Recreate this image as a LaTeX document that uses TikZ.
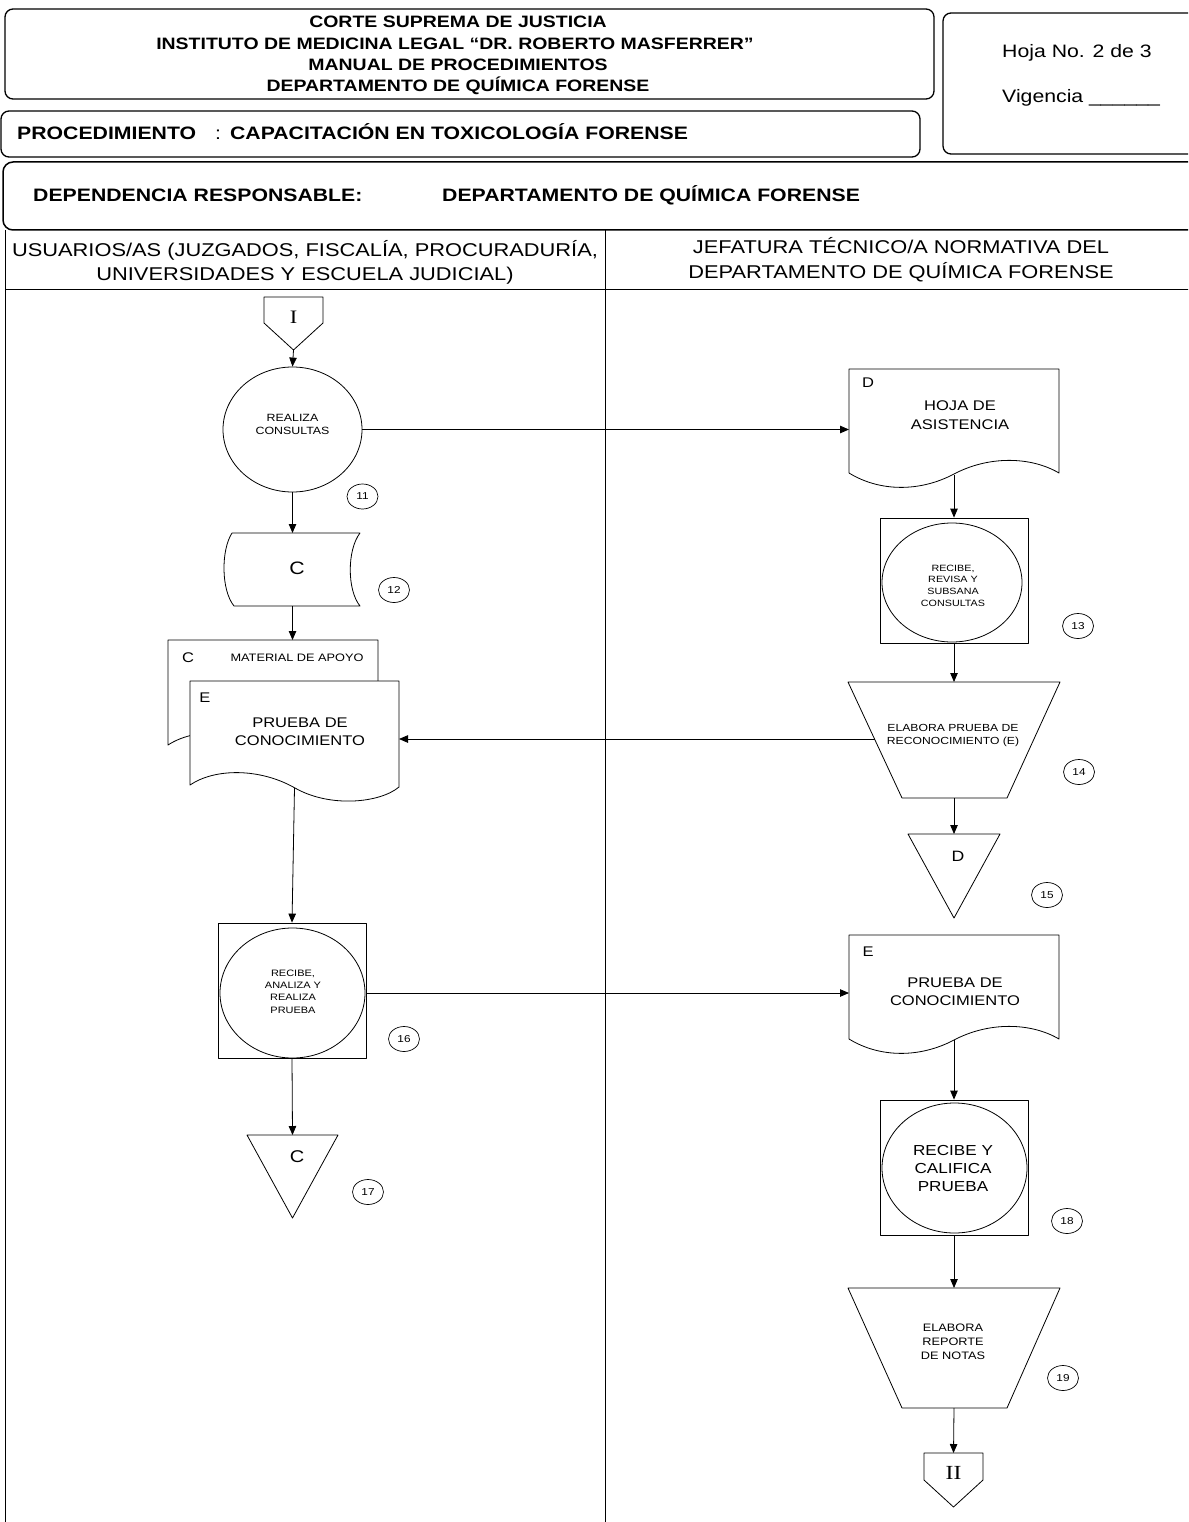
\documentclass[tikz,border=0pt]{standalone}
\usepackage{fontspec}
\setmainfont{Liberation Sans}[FakeStretch=1.18]
\newfontfamily\romanf{Liberation Serif}[FakeStretch=1.18]
\usetikzlibrary{shapes.geometric,arrows.meta,calc}
\newcommand\fs[2]{\fontsize{#1}{#2}\selectfont}
\begin{document}
\begin{tikzpicture}[x=1pt,y=-1pt,line join=round,
  shp/.style={draw,line width=0.8pt,fill=white},
  arr/.style={draw,line width=0.8pt,-{Triangle[length=9pt,width=7.5pt]}},
  ln/.style={draw,line width=0.8pt},
  hdrbox/.style={draw,line width=1.3pt},
  txt/.style={inner sep=0,align=center},
  badge/.style={ellipse,draw,line width=0.7pt,minimum width=31pt,minimum height=25pt,inner sep=0,font=\fs{10}{10}},
  circ/.style={ellipse,draw,line width=0.8pt,inner sep=0},
  bx/.style={draw,line width=0.8pt,inner sep=0},
  ghost/.style={inner sep=0,outer sep=0}]
\useasboundingbox (0,0) rectangle (1188,1522);
\clip (0,0) rectangle (1188,1522);

% ---------- header ----------
\draw[hdrbox,rounded corners=8pt] (5,9) rectangle (934,99);
\node[txt,font=\bfseries\fs{16.5}{20},anchor=base] (t1) at (458,27.5) {CORTE SUPREMA DE JUSTICIA};
\node[txt,font=\bfseries\fs{16.5}{20},anchor=base] (t2) at (455,49.3) {INSTITUTO DE MEDICINA LEGAL “DR. ROBERTO MASFERRER”};
\node[txt,font=\bfseries\fs{16.5}{20},anchor=base] (t3) at (458,70.5) {MANUAL DE PROCEDIMIENTOS};
\node[txt,font=\bfseries\fs{16.5}{20},anchor=base] (t4) at (458,92) {DEPARTAMENTO DE QUÍMICA FORENSE};

\draw[hdrbox,rounded corners=8pt] (1,111) rectangle (920,157);
\node[txt,font=\fs{18}{20},anchor=base west] (proc) at (17,140) {\textbf{PROCEDIMIENTO}\hspace{19pt}:\hspace{9pt}\textbf{CAPACITACIÓN EN TOXICOLOGÍA FORENSE}};

\draw[hdrbox,rounded corners=8pt] (943,13) rectangle (1210,154);
\node[txt,font=\fs{18}{20},anchor=base west] (hoja) at (1002,58) {Hoja No. 2 de 3};
\node[txt,font=\fs{18}{20},anchor=base west] (vig) at (1002,103) {Vigencia \_\_\_\_\_\_};

\draw[hdrbox,line width=1.5pt,rounded corners=10pt] (3,162) rectangle (1210,230);
\node[txt,font=\bfseries\fs{18}{20},anchor=base west] (dep1) at (33,202) {DEPENDENCIA RESPONSABLE:};
\node[txt,font=\bfseries\fs{18}{20},anchor=base west] (dep2) at (442,202) {DEPARTAMENTO DE QUÍMICA FORENSE};

% ---------- lanes ----------
\draw[ln] (5,230) -- (5,1530);
\draw[ln] (605,230) -- (605,1530);
\draw[ln] (5,289) -- (1210,289);
\node[txt,font=\fs{18.5}{22},anchor=base] (lh1a) at (305,257) {USUARIOS/AS (JUZGADOS, FISCALÍA, PROCURADURÍA,};
\node[txt,font=\fs{18.5}{22},anchor=base] (lh1b) at (305,280) {UNIVERSIDADES Y ESCUELA JUDICIAL)};
\node[txt,font=\fs{18.5}{22},anchor=base] (lh2a) at (901,254) {JEFATURA TÉCNICO/A NORMATIVA DEL};
\node[txt,font=\fs{18.5}{22},anchor=base] (lh2b) at (901,278) {DEPARTAMENTO DE QUÍMICA FORENSE};

% ---------- left lane ----------
\node[ghost,minimum width=59pt,minimum height=53pt] (conI) at (293.5,323.5) {};
\draw[shp] (264,297) -- (323,297) -- (323,323) -- (293.5,350) -- (264,323) -- cycle;
\node[txt,font=\romanf\fs{19}{19}] (conIt) at (293.5,317) {I};

\node[circ,minimum width=139pt,minimum height=125pt] (realiza) at (292.5,429.5) {};
\node[txt,font=\fs{10.5}{13}] (realizat) at (292.5,424.5) {REALIZA\\CONSULTAS};
\node[badge] (b11) at (362.5,496.5) {11};

\node[ghost,minimum width=135pt,minimum height=73pt] (storC) at (292.5,569.5) {};
\draw[shp] (232,533) -- (360,533) .. controls (347,550) and (347,590) .. (360,606) -- (234,606) .. controls (221,590) and (221,550) .. (232,533) -- cycle;
\node[txt,font=\fs{18}{18}] (storCt) at (297,568) {C};
\node[badge] (b12) at (394,590) {12};

\node[ghost,minimum width=210pt,minimum height=105pt] (docC) at (273,692.5) {};
\draw[shp] (168,640) -- (378,640) -- (378,747) .. controls (359,763) and (309,768) .. (274,748) .. controls (239,728) and (194,728) .. (168,745) -- cycle;
\node[txt,font=\fs{14}{14}] (docCl) at (188,658) {C};
\node[txt,font=\fs{10.8}{13}] (docCt) at (297,658) {MATERIAL DE APOYO};

\node[ghost,minimum width=209pt,minimum height=107pt] (docE1) at (294.5,734.5) {};
\draw[shp] (190,681) -- (399,681) -- (399,787) .. controls (380,803) and (330,808) .. (295,788) .. controls (260,768) and (215,768) .. (190,785) -- cycle;
\node[txt,font=\fs{14}{14}] (docE1l) at (205,698) {E};
\node[txt,font=\fs{14}{18}] (docE1t) at (300,732) {PRUEBA DE\\CONOCIMIENTO};

\node[bx,minimum width=148pt,minimum height=135pt] (box16) at (292,990.5) {};
\node[circ,minimum width=145pt,minimum height=130pt] (c16) at (292.5,993) {};
\node[txt,font=\fs{9.3}{12.3}] (c16t) at (293,991.5) {RECIBE,\\ANALIZA Y\\REALIZA\\PRUEBA};
\node[badge] (b16) at (404,1039) {16};

\node[ghost,minimum width=91pt,minimum height=83pt] (triC) at (292.5,1176.5) {};
\draw[shp] (247,1135) -- (338,1135) -- (292.5,1218) -- cycle;
\node[txt,font=\fs{17}{17}] (triCt) at (297,1157) {C};
\node[badge] (b17) at (368,1192) {17};

% ---------- right lane ----------
\node[ghost,minimum width=210pt,minimum height=106pt] (docD) at (954,422) {};
\draw[shp] (849,369) -- (1059,369) -- (1059,473) .. controls (1030,456) and (988,456) .. (954,474) .. controls (920,492) and (880,492) .. (849,473) -- cycle;
\node[txt,font=\fs{14}{14}] (docDl) at (868,383) {D};
\node[txt,font=\fs{14}{19}] (docDt) at (960,415) {HOJA DE\\ASISTENCIA};

\node[bx,minimum width=148pt,minimum height=125pt] (box13) at (954,580.5) {};
\node[circ,minimum width=140pt,minimum height=119pt] (c13) at (952,582.5) {};
\node[txt,font=\fs{9.1}{11.7}] (c13t) at (953,585.5) {RECIBE,\\REVISA Y\\SUBSANA\\CONSULTAS};
\node[badge] (b13) at (1078,626) {13};

\node[ghost,minimum width=212pt,minimum height=116pt] (trap14) at (954,740) {};
\draw[shp] (848,682) -- (1060,682) -- (1007,798) -- (902,798) -- cycle;
\coordinate (trap14L) at (874.5,739);
\node[txt,font=\fs{10.3}{12.7}] (trap14t) at (953,735.5) {ELABORA PRUEBA DE\\RECONOCIMIENTO (E)};
\node[badge] (b14) at (1079,772) {14};

\node[ghost,minimum width=92pt,minimum height=84pt] (triD) at (954,876) {};
\draw[shp] (908,834) -- (1000,834) -- (954,918) -- cycle;
\node[txt,font=\fs{15}{15}] (triDt) at (958,856) {D};
\node[badge] (b15) at (1047,895) {15};

\node[ghost,minimum width=210pt,minimum height=105pt] (docE2) at (954,987.5) {};
\draw[shp] (849,935) -- (1059,935) -- (1059,1039) .. controls (1030,1022) and (988,1022) .. (954,1040) .. controls (920,1058) and (880,1058) .. (849,1039) -- cycle;
\node[txt,font=\fs{14}{14}] (docE2l) at (868,952) {E};
\node[txt,font=\fs{14}{18}] (docE2t) at (955,992) {PRUEBA DE\\CONOCIMIENTO};

\node[bx,minimum width=148pt,minimum height=135pt] (box18) at (954,1167.5) {};
\node[circ,minimum width=145pt,minimum height=130pt] (c18) at (954.5,1168) {};
\node[txt,font=\fs{14.5}{18}] (c18t) at (953,1168) {RECIBE Y\\CALIFICA\\PRUEBA};
\node[badge] (b18) at (1067,1221) {18};

\node[ghost,minimum width=212pt,minimum height=120pt] (trap19) at (954,1348) {};
\draw[shp] (848,1288) -- (1060,1288) -- (1007,1408) -- (902,1408) -- cycle;
\node[txt,font=\fs{10.8}{14}] (trap19t) at (953,1342) {ELABORA\\REPORTE\\DE NOTAS};
\node[badge] (b19) at (1063,1378) {19};

\node[ghost,minimum width=59pt,minimum height=54pt] (conII) at (953.5,1480) {};
\draw[shp] (924,1453) -- (983,1453) -- (983,1480) -- (953.5,1507) -- (924,1480) -- cycle;
\node[txt,font=\romanf\fs{20}{20}] (conIIt) at (953.5,1473) {II};

% ---------- connectors ----------
\draw[arr] (conI.south) -- (realiza.north);
\draw[arr] (realiza.east) -- (realiza.east -| docD.west);
\draw[arr] (realiza.south) -- (storC.north);
\draw[arr] (storC.south) -- (storC.south |- docC.north);
\draw[arr] (docE1.south) -- (box16.north);
\draw[arr] (c16.center -| box16.east) -- (c16.center -| docE2.west);
\draw[arr] (box16.south) -- (triC.north);
\draw[arr] (docD.south) -- (box13.north);
\draw[arr] (box13.south) -- (trap14.north);
\draw[arr] (trap14L) -- (trap14L -| docE1.east);
\draw[arr] (trap14.south) -- (triD.north);
\draw[arr] (docE2.south) -- (box18.north);
\draw[arr] (box18.south) -- (trap19.north);
\draw[arr] (trap19.south) -- (conII.north);
\end{tikzpicture}
\end{document}
